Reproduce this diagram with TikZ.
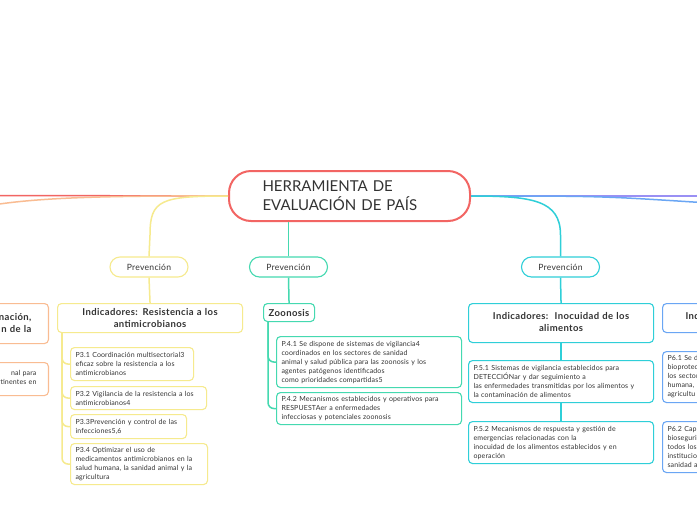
\documentclass[tikz,border=0pt]{standalone}
\usepackage{fontspec}
\setmainfont{Lato}
\usetikzlibrary{calc}
\definecolor{txt}{HTML}{333333}
\definecolor{cred}{HTML}{F26563}
\definecolor{cyel}{HTML}{F6EA8E}
\definecolor{cteal}{HTML}{45D9B0}
\definecolor{ccyan}{HTML}{2FCFD8}
\definecolor{cblue}{HTML}{6AA6F4}
\definecolor{cpurp}{HTML}{9A90F4}
\definecolor{corng}{HTML}{F9BC92}
\tikzset{
  bx/.style={draw=#1, line width=1.1pt, rounded corners=4pt, fill=white, text=txt,
    inner xsep=5pt, inner ysep=2pt, align=left, anchor=north west,
    font=\fontsize{7}{9}\selectfont\addfontfeatures{LetterSpace=2}},
  hd/.style={bx=#1, align=center, font=\bfseries\fontsize{9.5}{12}\selectfont\addfontfeatures{LetterSpace=4}},
  pv/.style={draw=#1, line width=1.1pt, rounded corners=10pt, fill=white, text=txt,
    minimum width=78pt, minimum height=20pt, inner sep=0pt,
    font=\fontsize{8.6}{10}\selectfont\addfontfeatures{LetterSpace=3}},
  ln/.style={draw=#1, line width=1.5pt},
  sub/.style={draw=#1, line width=1.5pt, rounded corners=6pt},
}
\begin{document}
\begin{tikzpicture}[x=1pt,y=-1pt]
\useasboundingbox (0,0) rectangle (697,520);
\clip (0,0) rectangle (697,520);
\fill[white] (0,0) rectangle (697,520);

% off-page ends
\coordinate (lr) at (-4,195.5);
\coordinate (lo) at (-4,204.5);
\coordinate (rp) at (701,196);
\coordinate (rb) at (701,202.5);

% central node
\node[draw=cred, line width=2pt, rounded corners=22pt, fill=white, text=txt,
  anchor=north west, text width=174pt, inner xsep=33.5pt, inner ysep=0pt,
  minimum height=50pt, align=left, font=\fontsize{15}{19}\selectfont]
  (c) at (228,170) {HERRAMIENTA DE\\EVALUACIÓN DE PAÍS};

% main branches
\draw[ln=cred] (c.west) -- (lr);
\draw[ln=corng] (c.west) .. controls (100,195.5) and (40,198) .. (lo);
\draw[ln=cpurp] (c.east) -- (rp);
\draw[ln=cblue] (c.east) .. controls (600,196) .. (rb);

% Prevención nodes
\node[pv=cyel] (pv1) at (149,267) {Prevención};
\node[pv=cteal] (pv2) at (288.5,267) {Prevención};
\node[pv=ccyan] (pv3) at (560.5,267) {Prevención};

\draw[ln=cyel] (c.west) .. controls (160,196) and (150,200) .. (150,235) -- (pv1.north);
\draw[ln=cteal] (pv2.north |- c.south) -- (pv2.north);
\draw[ln=ccyan] (c.east) .. controls (532,196) and (560.5,200) .. (560.5,235) -- (pv3.north);

% ---------- yellow subtree
\node[hd=cyel, text width=175pt, minimum height=29pt] (ind3) at (57,303)
  {Indicadores: Resistencia a los\\antimicrobianos};
\draw[ln=cyel] (pv1.south) -- (ind3.north);
\node[bx=cyel, text width=113pt, minimum height=33pt] (p31) at (70,347)
  {P3.1 Coordinación multisectorial3\\eficaz sobre la resistencia a los\\antimicrobianos};
\node[bx=cyel, text width=126pt, minimum height=23pt] (p32) at (70,386)
  {P3.2 Vigilancia de la resistencia a los\\antimicrobianos4};
\node[bx=cyel, text width=106pt, minimum height=24pt] (p33) at (70,414)
  {P3.3Prevención y control de las\\infecciones5,6};
\node[bx=cyel, text width=127pt, minimum height=41pt] (p34) at (70,443)
  {P3.4 Optimizar el uso de\\medicamentos antimicrobianos en la\\salud humana, la sanidad animal y la\\agricultura};
\coordinate (y0) at (62,332);
\foreach \n in {p31,p32,p33,p34} \draw[sub=cyel] (y0) |- (\n.west);

% ---------- teal subtree
\node[hd=cteal, text width=41pt, minimum height=18pt, inner ysep=1pt] (zoo) at (263,303) {Zoonosis};
\draw[ln=cteal] (pv2.south) -- (zoo.north);
\node[bx=cteal, text width=175pt, minimum height=51pt] (p41) at (276,336)
  {P.4.1 Se dispone de sistemas de vigilancia4\\coordinados en los sectores de sanidad\\animal y salud pública para las zoonosis y los\\agentes patógenos identificados\\como prioridades compartidas5};
\node[bx=cteal, text width=175pt, minimum height=32pt] (p42) at (276,392)
  {P.4.2 Mecanismos establecidos y operativos para\\RESPUESTAer a enfermedades\\infecciosas y potenciales zoonosis};
\coordinate (z0) at (268,321);
\foreach \n in {p41,p42} \draw[sub=cteal] (z0) |- (\n.west);

% ---------- cyan subtree
\node[hd=ccyan, text width=175pt, minimum height=39pt, text depth=14pt] (ind5) at (468,303)
  {Indicadores:\ \ Inocuidad de los\\alimentos};
\draw[ln=ccyan] (pv3.south) -- (ind5.north);
\node[bx=ccyan, text width=175pt, minimum height=42pt] (p51) at (468,360)
  {P.5.1 Sistemas de vigilancia establecidos para\\DETECCIÓNar y dar seguimiento a\\las enfermedades transmitidas por los alimentos y\\la contaminación de alimentos};
\node[bx=ccyan, text width=175pt, minimum height=42pt] (p52) at (468,421)
  {P.5.2 Mecanismos de respuesta y gestión de\\emergencias relacionadas con la\\inocuidad de los alimentos establecidos y en\\operación};
\draw[ln=ccyan] (ind5.south) -- (p51.north);
\draw[ln=ccyan] (p51.south) -- (p52.north);

% ---------- blue subtree (cut at right edge)
\node[hd=cblue, align=left, text width=80pt, inner xsep=23pt, minimum height=29pt,
  text depth=4pt] (ind6) at (662,303) {Ind};
\node[bx=cblue, text width=90pt, minimum height=51pt] (p61) at (662,351)
  {P6.1 Se d\\bioprotec\\los sector\\humana,\\agricultu};
\node[bx=cblue, text width=90pt, minimum height=51pt] (p62) at (662,421)
  {P6.2 Cap\\bioseguri\\todos los\\institucion\\sanidad a};

% ---------- orange subtree (cut at left edge)
\node[hd=corng, anchor=north east, align=right, text width=60pt, inner xsep=17pt,
  minimum height=40pt, text depth=14pt] (o1) at (49,303) {nación,\hspace*{4pt}\\n de la};
\node[bx=corng, anchor=north east, align=right, text width=60pt, inner xsep=12pt,
  minimum height=33pt, text depth=12pt] (o2) at (49,362) {nal para\\rtinentes en};
\end{tikzpicture}
\end{document}
